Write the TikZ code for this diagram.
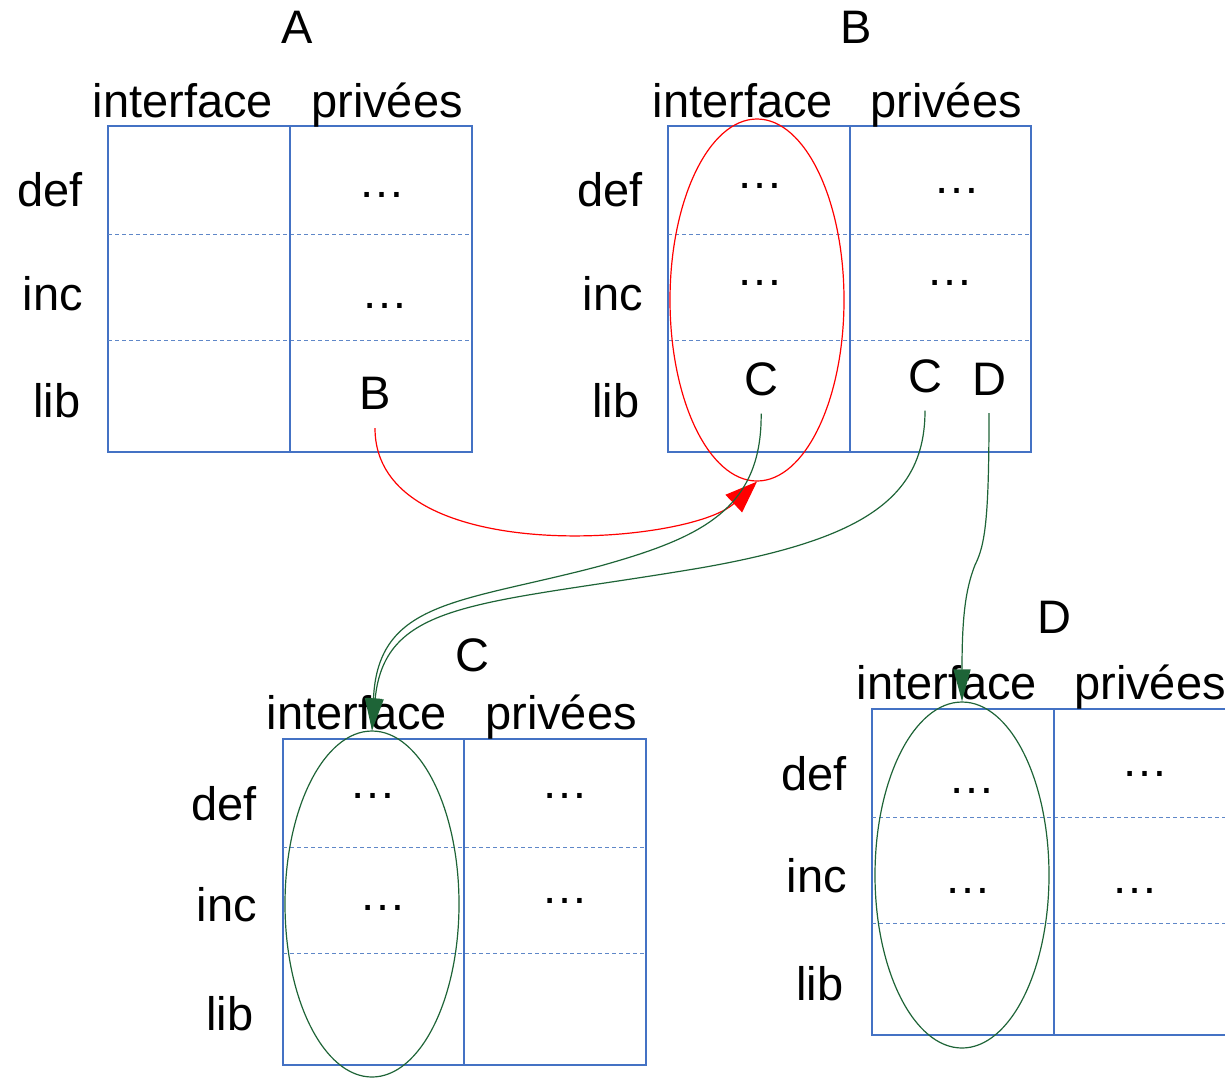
\documentclass[tikz,border=0pt]{standalone}
\usepackage{fontspec}
\setmainfont{Liberation Sans}
\usetikzlibrary{arrows.meta,shapes.geometric}
\definecolor{tblue}{RGB}{68,114,196}
\definecolor{tdash}{RGB}{95,135,200}
\definecolor{tgreen}{RGB}{30,100,55}
\newcommand\drawtbl[4]{% x0, y0, xmid, x1
  \draw[boxline] (#1,#2) rectangle (#4,#2+326);
  \draw[rowline] (#1,#2+108) -- (#4,#2+108);
  \draw[rowline] (#1,#2+214) -- (#4,#2+214);
  \draw[divline] (#3,#2) -- (#3,#2+326);
}
\begin{document}
\begin{tikzpicture}[x=1pt,y=-1pt,
  txt/.style={font=\fontsize{47}{47}\selectfont, inner sep=0pt, anchor=base},
  boxline/.style={draw=tblue, line width=1.4pt},
  divline/.style={draw=tblue, line width=2.2pt},
  rowline/.style={draw=tdash, line width=1pt, dash pattern=on 4pt off 3pt},
  redell/.style={draw=red, line width=1.2pt, ellipse, inner sep=0pt, minimum width=174pt, minimum height=362pt},
  greenell/.style={draw=tgreen, line width=1.2pt, ellipse, inner sep=0pt, minimum width=174pt, minimum height=346pt},
  redarrow/.style={draw=red, line width=1.2pt, -{Triangle[length=32pt,width=24pt]}},
  greenarrow/.style={draw=tgreen, line width=1.2pt, -{Triangle[length=32pt,width=17pt]}}
]
\useasboundingbox (0,0) rectangle (1225,1077);

% tables
\drawtbl{108}{126}{290}{472}
\drawtbl{668}{126}{850}{1031}
\drawtbl{283}{739}{464}{646}
\drawtbl{872}{709}{1054}{1240}

% titles
\node[txt] (tA) at (297,43) {A};
\node[txt] (tB) at (856,43) {B};
\node[txt] (tC) at (472,671) {C};
\node[txt] (tD) at (1054,633) {D};

% headers
\node[txt] (hAi) at (183,117) {interface};
\node[txt] (hAp) at (387,117) {privées};
\node[txt] (hBi) at (743,117) {interface};
\node[txt] (hBp) at (946,117) {privées};
\node[txt] (hCi) at (357,729) {interface};
\node[txt] (hCp) at (561,729) {privées};
\node[txt] (hDi) at (947,699) {interface};
\node[txt] (hDp) at (1150,699) {privées};

% row labels
\node[txt] (rAd) at (50,206) {def};
\node[txt] (rAi) at (53,310) {inc};
\node[txt] (rAl) at (57,417) {lib};
\node[txt] (rBd) at (610,206) {def};
\node[txt] (rBi) at (613,310) {inc};
\node[txt] (rBl) at (616,417) {lib};
\node[txt] (rCd) at (224,820) {def};
\node[txt] (rCi) at (227,921) {inc};
\node[txt] (rCl) at (230,1030) {lib};
\node[txt] (rDd) at (814,790) {def};
\node[txt] (rDi) at (817,892) {inc};
\node[txt] (rDl) at (820,1000) {lib};

% cell contents
\node[txt] (cA1) at (382,197) {…};
\node[txt] (cA2) at (385,308) {…};
\node[txt] (cAB) at (375,409) {B};
\node[txt] (cB1) at (760,188) {…};
\node[txt] (cB2) at (760,285) {…};
\node[txt] (cBC) at (761,395) {C};
\node[txt] (cB3) at (957,193) {…};
\node[txt] (cB4) at (950,285) {…};
\node[txt] (cBC2) at (925,392) {C};
\node[txt] (cBD) at (989,395) {D};
\node[txt] (cC1) at (373,798) {…};
\node[txt] (cC2) at (383,910) {…};
\node[txt] (cC3) at (565,798) {…};
\node[txt] (cC4) at (565,903) {…};
\node[txt] (cD1) at (972,793) {…};
\node[txt] (cD2) at (968,893) {…};
\node[txt] (cD3) at (1145,776) {…};
\node[txt] (cD4) at (1135,893) {…};

% ellipses
\node[redell] (eB) at (757,300) {};
\node[greenell] (eC) at (372,904) {};
\node[greenell] (eD) at (962,875) {};

% connectors
\draw[redarrow, shorten <=19pt] (cAB.south) .. controls (375,570) and (690,545) .. (eB.south);
\draw[greenarrow, shorten <=18pt] (cBC.south) .. controls (762,510) and (700,538) .. (600,566)
   .. controls (460,603) and (378,600) .. (eC.north);
\draw[greenarrow, shorten <=18pt] (cBC2.south) .. controls (925,500) and (860,540) .. (700,568)
   .. controls (480,605) and (385,600) .. (eC.north);
\draw[greenarrow, shorten <=18pt] (cBD.south) .. controls (989,520) and (985,545) .. (975,565)
   .. controls (965,590) and (962,620) .. (eD.north);
\end{tikzpicture}
\end{document}
